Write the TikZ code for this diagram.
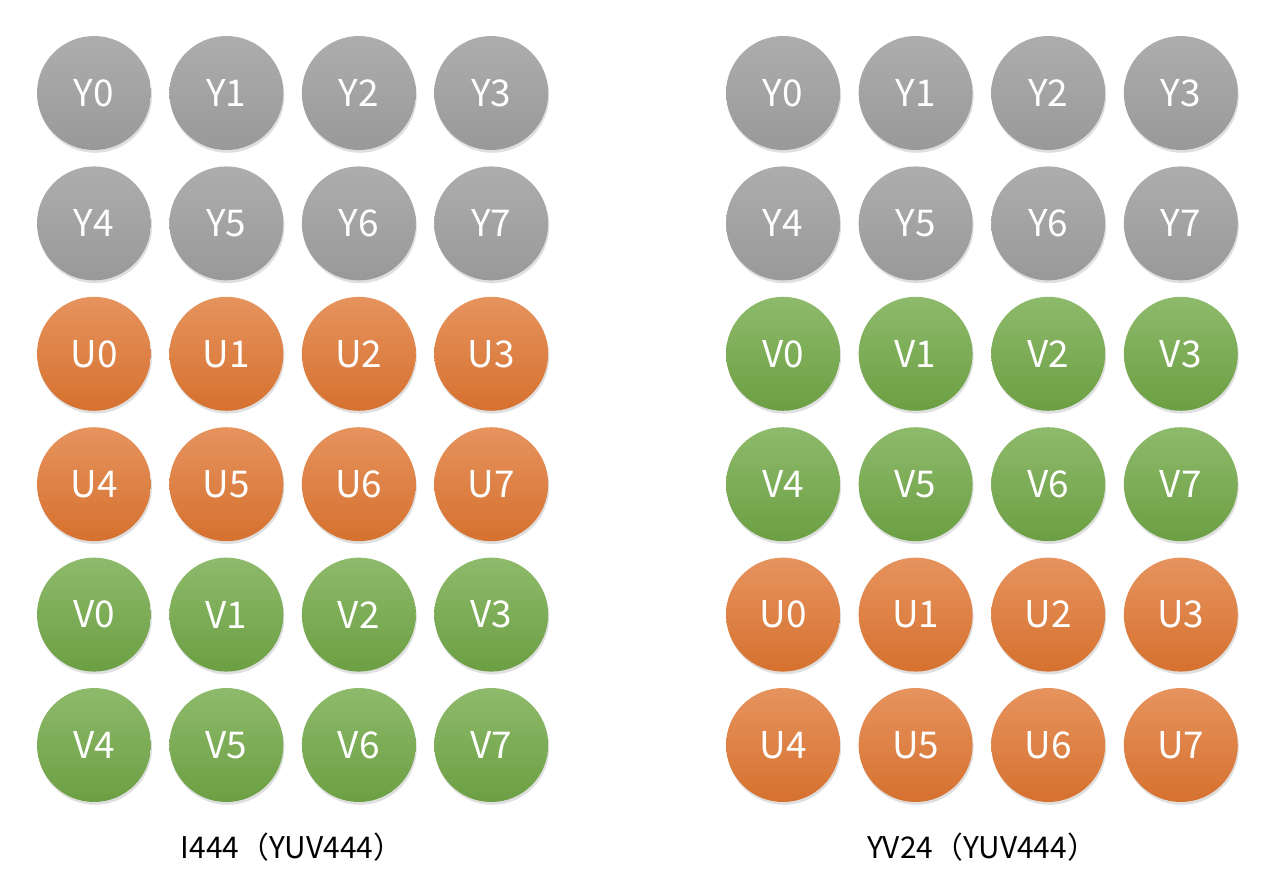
\documentclass[tikz,border=0pt]{standalone}
\usepackage{fontspec}
\setmainfont{Noto Sans CJK SC}
\usetikzlibrary{shadows}
\definecolor{lumaTop}{HTML}{ADADAD}
\definecolor{lumaBot}{HTML}{999999}
\definecolor{cbTop}{HTML}{E6935E}
\definecolor{cbBot}{HTML}{D6712F}
\definecolor{crTop}{HTML}{8EBA6B}
\definecolor{crBot}{HTML}{6C9F43}
\begin{document}
\begin{tikzpicture}[
    x=0.02cm, y=-0.02cm,
    every node/.style={font=\fontsize{21}{24}\selectfont},
    plane/.style={circle, minimum size=2.28cm, inner sep=0pt, text=white,
      drop shadow={shadow xshift=0.6pt, shadow yshift=-1.6pt, opacity=0.25}},
    lumaDot/.style={plane, top color=lumaTop, bottom color=lumaBot},
    cbDot/.style={plane, top color=cbTop, bottom color=cbBot},
    crDot/.style={plane, top color=crTop, bottom color=crBot},
    caption/.style={font=\fontsize{17}{20}\selectfont, text=black},
]
  \useasboundingbox (0,0) rectangle (1272,892);
  % I444: Y plane, then U, then V
  \foreach \ch/\sty/\base [count=\r from 0] in {Y/lumaDot/0, Y/lumaDot/4, U/cbDot/0, U/cbDot/4, V/crDot/0, V/crDot/4}{
    \foreach \c in {0,...,3}{
      \pgfmathtruncatemacro{\idx}{\base+\c}
      \node[\sty] (l\ch\idx) at ({94+132.4*\c},{93+130.4*\r}) {\ch\idx};
    }
  }
  % YV24: Y plane, then V, then U
  \foreach \ch/\sty/\base [count=\r from 0] in {Y/lumaDot/0, Y/lumaDot/4, V/crDot/0, V/crDot/4, U/cbDot/0, U/cbDot/4}{
    \foreach \c in {0,...,3}{
      \pgfmathtruncatemacro{\idx}{\base+\c}
      \node[\sty] (r\ch\idx) at ({783+132.6*\c},{93+130.4*\r}) {\ch\idx};
    }
  }
  % captions
  \node[caption] (lcap) at (292,847) {I444（YUV444）};
  \node[caption] (rcap) at (982,847) {YV24（YUV444）};
\end{tikzpicture}
\end{document}
